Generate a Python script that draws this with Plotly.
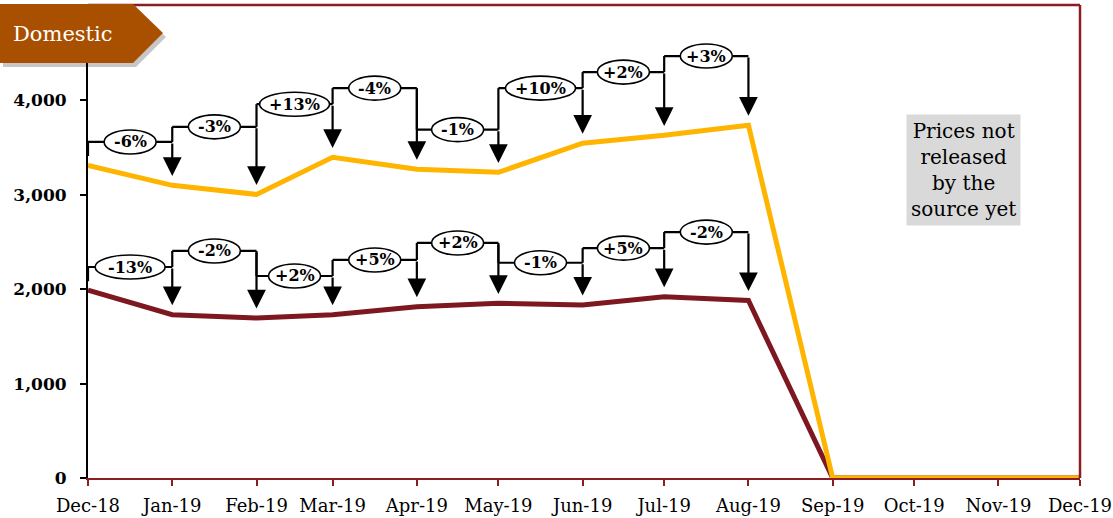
import plotly.graph_objects as go
import pandas as pd

# ---------------- data ----------------
months = ["2018-12-01", "2019-01-01", "2019-02-01", "2019-03-01", "2019-04-01",
          "2019-05-01", "2019-06-01", "2019-07-01", "2019-08-01", "2019-09-01",
          "2019-10-01", "2019-11-01", "2019-12-01"]
yellow_values = [3310, 3100, 3004, 3397, 3270, 3238, 3546, 3630, 3737, 0, 0, 0, 0]
red_values = [1990, 1730, 1695, 1730, 1815, 1850, 1832, 1920, 1880, 0, 0, 0, 0]
yellow_changes = ["-6%", "-3%", "+13%", "-4%", "-1%", "+10%", "+2%", "+3%"]
red_changes = ["-13%", "-2%", "+2%", "+5%", "+2%", "-1%", "+5%", "-2%"]
y_ticks = [0, 1000, 2000, 3000, 4000]
badge_text = "Domestic"
note_text = "Prices not<br>released<br>by the<br>source yet"

# ---------------- annotation layout (bracket heights, in axis units) ----------------
yellow_levels = [3560, 3720, 3960, 4130, 3690, 4130, 4300, 4470]
red_levels = [2235, 2405, 2140, 2310, 2490, 2280, 2435, 2605]

YELLOW = "#FFB400"
RED = "#7E1820"
FRAME = "#8B1E22"
SERIF = "DejaVu Serif"

# figure geometry
W, H = 1113, 518
ML, MR, MT, MB = 88, 33, 6, 40
PW, PH = W - ML - MR, H - MT - MB


def px2paper(px, py):
    return (px - ML) / PW, (H - MB - py) / PH


fig = go.Figure()
fig.add_trace(go.Scatter(x=months, y=red_values, mode="lines",
                         line=dict(color=RED, width=5), hoverinfo="skip"))
fig.add_trace(go.Scatter(x=months, y=yellow_values, mode="lines",
                         line=dict(color=YELLOW, width=5), hoverinfo="skip"))

shapes = []
annotations = []
dates = pd.to_datetime(months)
STUB = 150      # axis units for first left stub
GAP = 100       # axis units between arrow tip and data point


def add_brackets(values, changes, levels):
    ell = []
    for i, (txt, lev) in enumerate(zip(changes, levels)):
        x0 = months[i]
        x1 = months[i + 1]
        mid = dates[i] + (dates[i + 1] - dates[i]) / 2
        mids = mid.strftime("%Y-%m-%d %H:%M:%S")
        bottom = levels[i - 1] if i > 0 else lev - STUB
        shapes.append(dict(type="line", xref="x", yref="y", x0=x0, x1=x0,
                           y0=min(lev, bottom), y1=max(lev, bottom),
                           line=dict(color="black", width=2.2), layer="above"))
        shapes.append(dict(type="line", xref="x", yref="y", x0=x0, x1=x1,
                           y0=lev, y1=lev, line=dict(color="black", width=2.2),
                           layer="above"))
        annotations.append(dict(x=x1, y=values[i + 1] + GAP, ax=x1, ay=lev,
                                xref="x", yref="y", axref="x", ayref="y",
                                showarrow=True, arrowhead=2, arrowsize=1.7,
                                arrowwidth=2.2, arrowcolor="black", text="",
                                standoff=0))
        w = 18 * len(txt) - 2
        ell.append(dict(type="circle", xref="x", yref="y",
                        xsizemode="pixel", ysizemode="pixel",
                        xanchor=mids, yanchor=lev,
                        x0=-w / 2, x1=w / 2, y0=-12, y1=12,
                        fillcolor="white", line=dict(color="black", width=1.6),
                        layer="above"))
        annotations.append(dict(x=mids, y=lev, xref="x", yref="y",
                                text="<b>%s</b>" % txt, showarrow=False,
                                xanchor="center", yanchor="middle",
                                font=dict(family=SERIF, size=16, color="black")))
    return ell


ell1 = add_brackets(yellow_values, yellow_changes, yellow_levels)
ell2 = add_brackets(red_values, red_changes, red_levels)
shapes.extend(ell1 + ell2)

# frame: top and right dark red lines
shapes.append(dict(type="line", xref="paper", yref="paper", x0=0, x1=1, y0=1.002, y1=1.002,
                   line=dict(color=FRAME, width=2.5), layer="above"))
shapes.append(dict(type="line", xref="paper", yref="paper", x0=1, x1=1, y0=0, y1=1.002,
                   line=dict(color=FRAME, width=2.5), layer="above"))


def badge_path(dx, dy):
    pts = [(0, 4), (133, 4), (163, 33), (133, 63), (0, 63)]
    pp = [px2paper(x + dx, y + dy) for x, y in pts]
    return "M " + " L ".join("%f %f" % p for p in pp) + " Z"


shapes.append(dict(type="path", xref="paper", yref="paper", path=badge_path(3, 4),
                   fillcolor="rgba(0,0,0,0.22)", line=dict(width=0), layer="above"))
shapes.append(dict(type="path", xref="paper", yref="paper", path=badge_path(0, 0),
                   fillcolor="#A94F00", line=dict(width=0), layer="above"))

bx, by = px2paper(11, 34)
annotations.append(dict(x=bx, y=by, xref="paper", yref="paper", text=badge_text,
                        showarrow=False, xanchor="left", yanchor="middle",
                        font=dict(family=SERIF, size=21, color="white")))

nx, ny = px2paper(963, 170)
annotations.append(dict(x=nx, y=ny, xref="paper", yref="paper", text=note_text,
                        showarrow=False, align="center", bgcolor="#D9D9D9",
                        xanchor="center", yanchor="middle", borderpad=4,
                        font=dict(family=SERIF, size=20, color="black")))

fig.update_layout(
    width=W, height=H,
    margin=dict(l=ML, r=MR, t=MT, b=MB, autoexpand=False),
    plot_bgcolor="white", paper_bgcolor="white",
    showlegend=False,
    shapes=shapes, annotations=annotations,
    xaxis=dict(type="date", range=[months[0], months[-1]], tickvals=months,
               tickformat="%b-%y", showgrid=False, zeroline=False,
               automargin=False, ticklabeloverflow="allow",
               showline=True, linecolor=FRAME, linewidth=2,
               ticks="outside", ticklen=6, tickcolor=FRAME, tickwidth=2,
               ticklabelstandoff=4,
               tickfont=dict(family=SERIF, size=18, color="black")),
    yaxis=dict(range=[0, 5000], tickvals=y_ticks, tickformat=",",
               showgrid=False, zeroline=False, automargin=False,
               showline=True, linecolor="black", linewidth=2,
               ticks="outside", ticklen=6, tickcolor="black", tickwidth=2,
               ticklabelstandoff=10,
               tickfont=dict(family=SERIF, size=17, color="black", weight="bold")),
)

fig.write_html("out.html", config={"displayModeBar": False},
               post_script="document.body.style.margin='0px';")
